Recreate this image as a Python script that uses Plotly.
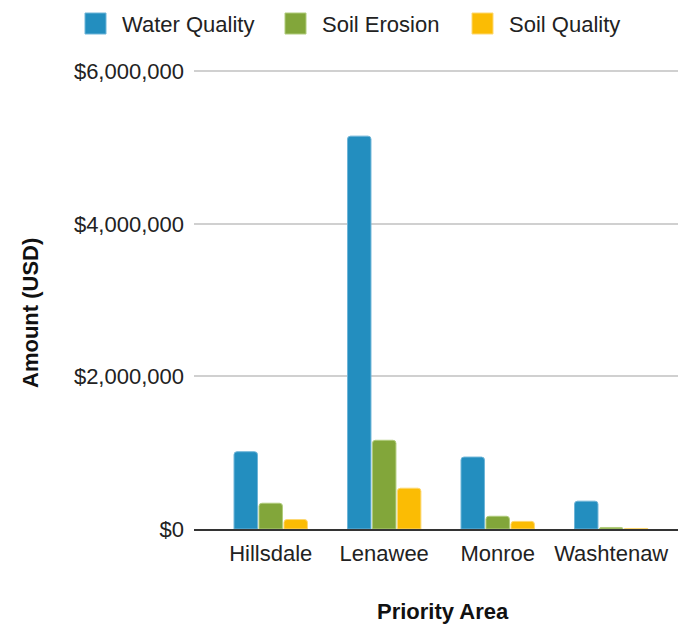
import plotly.graph_objects as go

categories = ["Hillsdale", "Lenawee", "Monroe", "Washtenaw"]
water_quality = [1013000, 5150000, 943000, 365000]
soil_erosion = [338000, 1163000, 167000, 20000]
soil_quality = [124000, 535000, 100000, 7000]

series_names = ["Water Quality", "Soil Erosion", "Soil Quality"]
series_values = [water_quality, soil_erosion, soil_quality]
series_colors = ["#238EBF", "#82A63A", "#FBBC04"]
series_edges = ["#6fb5d8", "#b0cc7c", "#fdd873"]

FONT = "Liberation Sans, Arial, sans-serif"

# page body has an 8px margin; size the figure so it fills the 686x625 window
OFF = 8
W, H = 686 - OFF, 625 - OFF
L, R, T, B = 194 - OFF, 5, 69 - OFF, 96
pw, ph = W - L - R, H - T - B


def px(x):
    return (x - OFF - L) / pw


def py(y):
    return (H - B - (y - OFF)) / ph


fig = go.Figure()
for name, vals, color, edge in zip(series_names, series_values, series_colors, series_edges):
    fig.add_trace(go.Bar(
        x=categories, y=vals, name=name, showlegend=False,
        marker=dict(color=color, line=dict(color=edge, width=1), cornerradius=3),
    ))

# manual legend (layout decoration)
legend_square_x = [85, 285, 472]
shapes = []
annotations = []
for name, color, edge, sx in zip(series_names, series_colors, series_edges, legend_square_x):
    shapes.append(dict(type="rect", xref="paper", yref="paper",
                       x0=px(sx), x1=px(sx + 21), y0=py(34), y1=py(13),
                       fillcolor=color, line=dict(color=edge, width=1), layer="above"))
    annotations.append(dict(text=name, xref="paper", yref="paper",
                            x=px(sx + 35), y=py(24), xanchor="left", yanchor="middle",
                            showarrow=False, font=dict(size=22, color="#222222", family=FONT)))

annotations += [
    dict(text="<b>Amount (USD)</b>", xref="paper", yref="paper",
         x=px(30), y=py(313), textangle=-90,
         showarrow=False, xanchor="center", yanchor="middle",
         font=dict(size=22, color="#111111", family=FONT)),
    dict(text="<b>Priority Area</b>", xref="paper", yref="paper",
         x=px(443), y=py(611),
         showarrow=False, xanchor="center", yanchor="middle",
         font=dict(size=22, color="#111111", family=FONT)),
]

fig.update_layout(
    width=W, height=H,
    margin=dict(l=L, r=R, t=T, b=B, autoexpand=False),
    paper_bgcolor="white", plot_bgcolor="white",
    barmode="group", bargap=0.34, bargroupgap=0.06,
    font=dict(family=FONT, size=22, color="#222222"),
    showlegend=False,
    xaxis=dict(
        range=[-0.676, 3.615], showgrid=False, zeroline=False,
        showline=True, linecolor="#333333", linewidth=2,
        ticks="", tickfont=dict(size=22, color="#222222"),
        ticklabelstandoff=4,
    ),
    yaxis=dict(
        range=[0, 6030000], tick0=0, dtick=2000000,
        tickprefix="$", tickformat=",",
        showgrid=True, gridcolor="#d0d0d0", gridwidth=1.5,
        zeroline=False, showline=False, ticks="",
        tickfont=dict(size=22, color="#222222"),
        ticklabelstandoff=9,
    ),
    shapes=shapes,
    annotations=annotations,
)

fig.write_html("out.html")
